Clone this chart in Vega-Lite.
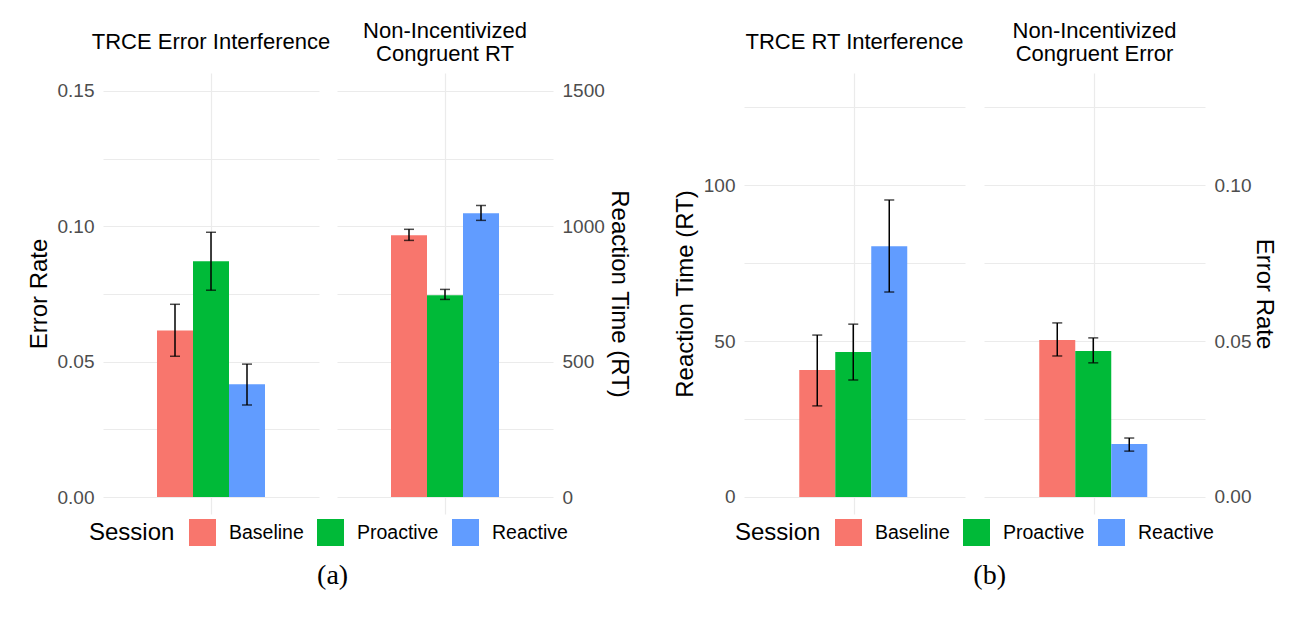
{
  "$schema": "https://vega.github.io/schema/vega-lite/v6.json",
  "background": "white",
  "padding": {"left": 27, "top": 20, "right": 0, "bottom": 0},
  "data": {
    "values": [
      {"Panel": "P1", "Session": "Baseline", "Mean": 0.0615, "Lo": 0.052, "Hi": 0.0712},
      {"Panel": "P1", "Session": "Proactive", "Mean": 0.0871, "Lo": 0.0764, "Hi": 0.0978},
      {"Panel": "P1", "Session": "Reactive", "Mean": 0.0417, "Lo": 0.034, "Hi": 0.0491},
      {"Panel": "P2", "Session": "Baseline", "Mean": 967, "Lo": 948, "Hi": 989},
      {"Panel": "P2", "Session": "Proactive", "Mean": 745, "Lo": 730, "Hi": 767},
      {"Panel": "P2", "Session": "Reactive", "Mean": 1048, "Lo": 1022, "Hi": 1077},
      {"Panel": "P3", "Session": "Baseline", "Mean": 40.7, "Lo": 29.2, "Hi": 51.9},
      {"Panel": "P3", "Session": "Proactive", "Mean": 46.5, "Lo": 37.5, "Hi": 55.4},
      {"Panel": "P3", "Session": "Reactive", "Mean": 80.4, "Lo": 65.7, "Hi": 95.2},
      {"Panel": "P4", "Session": "Baseline", "Mean": 0.0503, "Lo": 0.0452, "Hi": 0.0558},
      {"Panel": "P4", "Session": "Proactive", "Mean": 0.0468, "Lo": 0.043, "Hi": 0.051},
      {"Panel": "P4", "Session": "Reactive", "Mean": 0.017, "Lo": 0.0147, "Hi": 0.0189}
    ]
  },
  "spacing": 42,
  "resolve": {"scale": {"color": "independent"}},
  "hconcat": [
    {
      "title": {"text": "(a)", "orient": "bottom", "anchor": "middle", "font": "Liberation Serif", "fontSize": 28, "offset": 16, "dx": 4},
      "spacing": 18,
      "bounds": "flush",
      "hconcat": [
        {
          "width": 216,
          "height": 441,
          "title": {"text": "TRCE Error Interference", "offset": 19},
          "transform": [{"filter": "datum.Panel == 'P1'"}],
          "encoding": {
            "x": {"field": "Panel", "type": "nominal", "scale": {"paddingInner": 0, "paddingOuter": 0.5},
              "axis": {"title": null, "labels": false, "ticks": false, "domain": false, "grid": true, "bandPosition": 0.5}},
            "xOffset": {"field": "Session", "type": "nominal", "scale": {"paddingInner": 0}}
          },
          "layer": [
            {
              "mark": {"type": "bar"},
              "encoding": {
                "y": {"field": "Mean", "type": "quantitative", "title": "Error Rate",
                  "scale": {"domain": [-0.00627, 0.15664], "nice": false, "zero": false},
                  "axis": {"orient": "left", "values": [0, 0.025, 0.05, 0.075, 0.1, 0.125, 0.15], "titlePadding": 6,
                    "labelExpr": "abs(datum.value*20 - round(datum.value*20)) < 0.001 ? format(datum.value, '.2f') : ''"}},
                "y2": {"datum": 0},
                "color": {"field": "Session", "type": "nominal",
                  "scale": {"domain": ["Baseline", "Proactive", "Reactive"], "range": ["#F8766D", "#00BA38", "#619CFF"]},
                  "legend": {"title": "Session"}}
              }
            },
            {
              "mark": {"type": "rule", "color": "black", "strokeWidth": 1.5},
              "encoding": {"y": {"field": "Lo", "type": "quantitative", "title": "Error Rate"}, "y2": {"field": "Hi"}}
            },
            {
              "mark": {"type": "tick", "color": "black", "size": 10, "thickness": 1.5},
              "encoding": {"y": {"field": "Lo", "type": "quantitative", "title": "Error Rate"}}
            },
            {
              "mark": {"type": "tick", "color": "black", "size": 10, "thickness": 1.5},
              "encoding": {"y": {"field": "Hi", "type": "quantitative", "title": "Error Rate"}}
            }
          ]
        },
        {
          "width": 216,
          "height": 441,
          "title": {"text": ["Non-Incentivized", "Congruent RT"], "offset": 7},
          "transform": [{"filter": "datum.Panel == 'P2'"}],
          "encoding": {
            "x": {"field": "Panel", "type": "nominal", "scale": {"paddingInner": 0, "paddingOuter": 0.5},
              "axis": {"title": null, "labels": false, "ticks": false, "domain": false, "grid": true, "bandPosition": 0.5}},
            "xOffset": {"field": "Session", "type": "nominal", "scale": {"paddingInner": 0}}
          },
          "layer": [
            {
              "mark": {"type": "bar"},
              "encoding": {
                "y": {"field": "Mean", "type": "quantitative", "title": "Reaction Time (RT)",
                  "scale": {"domain": [-62.7, 1566.4], "nice": false, "zero": false},
                  "axis": {"orient": "right", "values": [0, 250, 500, 750, 1000, 1250, 1500], "titlePadding": 2,
                    "labelExpr": "datum.value % 500 == 0 ? format(datum.value, 'd') : ''"}},
                "y2": {"datum": 0},
                "color": {"field": "Session", "type": "nominal",
                  "scale": {"domain": ["Baseline", "Proactive", "Reactive"], "range": ["#F8766D", "#00BA38", "#619CFF"]},
                  "legend": {"title": "Session"}}
              }
            },
            {
              "mark": {"type": "rule", "color": "black", "strokeWidth": 1.5},
              "encoding": {"y": {"field": "Lo", "type": "quantitative", "title": "Reaction Time (RT)"}, "y2": {"field": "Hi"}}
            },
            {
              "mark": {"type": "tick", "color": "black", "size": 10, "thickness": 1.5},
              "encoding": {"y": {"field": "Lo", "type": "quantitative", "title": "Reaction Time (RT)"}}
            },
            {
              "mark": {"type": "tick", "color": "black", "size": 10, "thickness": 1.5},
              "encoding": {"y": {"field": "Hi", "type": "quantitative", "title": "Reaction Time (RT)"}}
            }
          ]
        }
      ]
    },
    {
      "title": {"text": "(b)", "orient": "bottom", "anchor": "middle", "font": "Liberation Serif", "fontSize": 28, "offset": 16, "dx": 15},
      "spacing": 19,
      "bounds": "flush",
      "hconcat": [
        {
          "width": 221,
          "height": 441,
          "title": {"text": "TRCE RT Interference", "offset": 19},
          "transform": [{"filter": "datum.Panel == 'P3'"}],
          "encoding": {
            "x": {"field": "Panel", "type": "nominal", "scale": {"paddingInner": 0, "paddingOuter": 0.5},
              "axis": {"title": null, "labels": false, "ticks": false, "domain": false, "grid": true, "bandPosition": 0.5}},
            "xOffset": {"field": "Session", "type": "nominal", "scale": {"paddingInner": 0}}
          },
          "layer": [
            {
              "mark": {"type": "bar"},
              "encoding": {
                "y": {"field": "Mean", "type": "quantitative", "title": "Reaction Time (RT)",
                  "scale": {"domain": [-5.45, 135.9], "nice": false, "zero": false},
                  "axis": {"orient": "left", "values": [0, 25, 50, 75, 100, 125], "titlePadding": 6,
                    "labelExpr": "datum.value % 50 == 0 ? format(datum.value, 'd') : ''"}},
                "y2": {"datum": 0},
                "color": {"field": "Session", "type": "nominal",
                  "scale": {"domain": ["Baseline", "Proactive", "Reactive"], "range": ["#F8766D", "#00BA38", "#619CFF"]},
                  "legend": {"title": "Session"}}
              }
            },
            {
              "mark": {"type": "rule", "color": "black", "strokeWidth": 1.5},
              "encoding": {"y": {"field": "Lo", "type": "quantitative", "title": "Reaction Time (RT)"}, "y2": {"field": "Hi"}}
            },
            {
              "mark": {"type": "tick", "color": "black", "size": 10, "thickness": 1.5},
              "encoding": {"y": {"field": "Lo", "type": "quantitative", "title": "Reaction Time (RT)"}}
            },
            {
              "mark": {"type": "tick", "color": "black", "size": 10, "thickness": 1.5},
              "encoding": {"y": {"field": "Hi", "type": "quantitative", "title": "Reaction Time (RT)"}}
            }
          ]
        },
        {
          "width": 221,
          "height": 441,
          "title": {"text": ["Non-Incentivized", "Congruent Error"], "offset": 7},
          "transform": [{"filter": "datum.Panel == 'P4'"}],
          "encoding": {
            "x": {"field": "Panel", "type": "nominal", "scale": {"paddingInner": 0, "paddingOuter": 0.5},
              "axis": {"title": null, "labels": false, "ticks": false, "domain": false, "grid": true, "bandPosition": 0.5}},
            "xOffset": {"field": "Session", "type": "nominal", "scale": {"paddingInner": 0}}
          },
          "layer": [
            {
              "mark": {"type": "bar"},
              "encoding": {
                "y": {"field": "Mean", "type": "quantitative", "title": "Error Rate",
                  "scale": {"domain": [-0.00545, 0.1359], "nice": false, "zero": false},
                  "axis": {"orient": "right", "values": [0, 0.025, 0.05, 0.075, 0.1, 0.125], "titlePadding": 1,
                    "labelExpr": "abs(datum.value*20 - round(datum.value*20)) < 0.001 ? format(datum.value, '.2f') : ''"}},
                "y2": {"datum": 0},
                "color": {"field": "Session", "type": "nominal",
                  "scale": {"domain": ["Baseline", "Proactive", "Reactive"], "range": ["#F8766D", "#00BA38", "#619CFF"]},
                  "legend": {"title": "Session"}}
              }
            },
            {
              "mark": {"type": "rule", "color": "black", "strokeWidth": 1.5},
              "encoding": {"y": {"field": "Lo", "type": "quantitative", "title": "Error Rate"}, "y2": {"field": "Hi"}}
            },
            {
              "mark": {"type": "tick", "color": "black", "size": 10, "thickness": 1.5},
              "encoding": {"y": {"field": "Lo", "type": "quantitative", "title": "Error Rate"}}
            },
            {
              "mark": {"type": "tick", "color": "black", "size": 10, "thickness": 1.5},
              "encoding": {"y": {"field": "Hi", "type": "quantitative", "title": "Error Rate"}}
            }
          ]
        }
      ]
    }
  ],
  "config": {
    "font": "Liberation Sans",
    "view": {"stroke": null},
    "title": {"font": "Liberation Sans", "fontSize": 22, "fontWeight": "normal", "color": "black", "lineHeight": 23, "baseline": "bottom", "anchor": "middle"},
    "axis": {
      "labelFont": "Liberation Sans", "labelFontSize": 19, "labelColor": "#4d4d4d", "labelPadding": 9,
      "titleFont": "Liberation Sans", "titleFontSize": 24, "titleFontWeight": "normal", "titleColor": "black",
      "gridColor": "#ebebeb", "gridWidth": 1.2, "domain": false, "ticks": false, "tickSize": 0
    },
    "legend": {
      "orient": "bottom", "direction": "horizontal", "offset": 5,
      "titleOrient": "left", "titleFont": "Liberation Sans", "titleFontSize": 24, "titleFontWeight": "normal", "titleColor": "black", "titlePadding": 14,
      "labelFont": "Liberation Sans", "labelFontSize": 19.5, "labelColor": "black", "labelOffset": 13, "columnPadding": 13,
      "symbolType": "square", "symbolSize": 729, "symbolStrokeWidth": 0, "symbolOpacity": 1,
      "layout": {"bottom": {"anchor": "middle"}}
    }
  }
}
